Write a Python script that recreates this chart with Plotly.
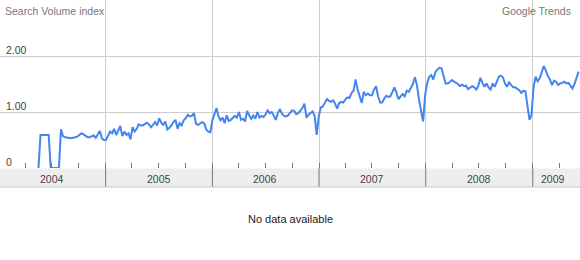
import pandas as pd
import plotly.graph_objects as go

# ---- data (weekly Search Volume index) ----
start_week = "2004-05-16"
values = [
    0.00, 0.59, 0.59, 0.59, 0.59, 0.59, 0.00, 0.00, 0.00, 0.00,
    0.00, 0.69, 0.57, 0.55, 0.54, 0.53, 0.53, 0.54, 0.55, 0.56,
    0.59, 0.62, 0.60, 0.57, 0.55, 0.55, 0.56, 0.58, 0.54, 0.60,
    0.66, 0.53, 0.50, 0.50, 0.57, 0.65, 0.62, 0.70, 0.59, 0.68,
    0.75, 0.57, 0.65, 0.59, 0.62, 0.51, 0.73, 0.65, 0.70, 0.78,
    0.76, 0.76, 0.78, 0.81, 0.78, 0.73, 0.77, 0.82, 0.76, 0.89,
    0.81, 0.77, 0.83, 0.69, 0.72, 0.76, 0.82, 0.86, 0.70, 0.80,
    0.76, 0.85, 0.89, 0.95, 0.92, 0.93, 0.98, 0.79, 0.77, 0.79,
    0.82, 0.80, 0.69, 0.65, 0.64, 0.85, 0.98, 1.07, 0.92, 0.85,
    0.90, 0.80, 0.94, 0.84, 0.86, 0.90, 0.93, 0.90, 1.00, 0.86,
    0.88, 0.83, 1.02, 0.94, 0.88, 0.94, 0.88, 1.00, 0.90, 0.93,
    0.91, 0.96, 1.03, 0.98, 1.00, 0.94, 0.86, 0.98, 1.05, 0.97,
    0.93, 0.92, 0.94, 0.99, 1.03, 1.02, 0.96, 0.98, 1.02, 1.07,
    1.15, 0.90, 0.95, 0.99, 1.01, 0.93, 0.59, 0.92, 1.08, 1.10,
    1.16, 1.23, 1.20, 1.18, 1.21, 1.15, 1.06, 1.16, 1.18, 1.17,
    1.22, 1.26, 1.25, 1.34, 1.38, 1.58, 1.40, 1.26, 1.16, 1.36,
    1.30, 1.33, 1.30, 1.30, 1.40, 1.46, 1.28, 1.17, 1.17, 1.24,
    1.29, 1.27, 1.28, 1.36, 1.44, 1.34, 1.23, 1.28, 1.32, 1.28,
    1.38, 1.36, 1.43, 1.50, 1.62, 1.48, 1.22, 1.05, 0.83, 1.30,
    1.52, 1.63, 1.66, 1.58, 1.71, 1.76, 1.79, 1.78, 1.64, 1.51,
    1.51, 1.53, 1.57, 1.55, 1.53, 1.50, 1.46, 1.49, 1.46, 1.47,
    1.41, 1.44, 1.46, 1.44, 1.40, 1.47, 1.61, 1.52, 1.45, 1.51,
    1.44, 1.40, 1.51, 1.45, 1.55, 1.63, 1.65, 1.62, 1.51, 1.45,
    1.53, 1.48, 1.44, 1.44, 1.41, 1.39, 1.34, 1.38, 1.37, 1.10,
    0.86, 0.95, 1.45, 1.63, 1.55, 1.60, 1.71, 1.82, 1.74, 1.64,
    1.58, 1.48, 1.56, 1.54, 1.48, 1.51, 1.52, 1.54, 1.51, 1.52,
    1.47, 1.42, 1.50, 1.62, 1.72,
]
dates = pd.date_range(start=start_week, periods=len(values), freq="W-SUN")

year_labels = ["2004", "2005", "2006", "2007", "2008", "2009"]
year_label_dates = ["2004-07-01", "2005-07-01", "2006-07-01",
                    "2007-07-01", "2008-07-01", "2009-03-10"]
year_starts = ["2005-01-01", "2006-01-01", "2007-01-01",
               "2008-01-01", "2009-01-01"]
y_tick_vals = [0, 1, 2]
y_tick_text = ["0", "1.00", "2.00"]

x_range = ["2004-01-05 10:00", "2009-06-11 19:00"]

# ---- figure ----
PLOT_H = 168.0
FONT = "Liberation Sans, Arial, sans-serif"

fig = go.Figure()
fig.add_trace(go.Scatter(
    x=dates, y=values, mode="lines",
    line=dict(color="#4684ee", width=2),
    hoverinfo="skip", showlegend=False,
))

fig.update_layout(
    width=580, height=260,
    margin=dict(l=0, r=0, t=0, b=260 - int(PLOT_H), pad=0),
    paper_bgcolor="white", plot_bgcolor="white",
    font=dict(family=FONT, size=10.5, color="#444"),
    xaxis=dict(
        type="date", range=x_range, fixedrange=True,
        tick0="2004-01-01", dtick="M12",
        showgrid=True, gridcolor="#cccccc", gridwidth=1,
        ticks="inside", ticklen=5, tickwidth=1, tickcolor="#777",
        showticklabels=False, zeroline=False, showline=False,
        minor=dict(dtick="M3", tick0="2004-01-01", ticks="inside",
                   ticklen=5, tickwidth=1, tickcolor="#777", showgrid=False),
    ),
    yaxis=dict(
        range=[0, 3], fixedrange=True,
        tickvals=y_tick_vals, showticklabels=False,
        showgrid=True, gridcolor="#cccccc", gridwidth=1,
        zeroline=False, showline=False,
    ),
    hovermode=False,
)

def py(px):
    """pixel row (from top of figure) -> paper y"""
    return (PLOT_H - px) / PLOT_H

# bottom band
fig.add_shape(type="rect", xref="paper", yref="paper",
              x0=0, x1=1, y0=py(187), y1=py(168.5),
              fillcolor="#eeeeee", line=dict(width=0), layer="below")
fig.add_shape(type="line", xref="paper", yref="paper",
              x0=0, x1=1, y0=py(187), y1=py(187),
              line=dict(color="#c8c8c8", width=1))
for d in year_starts:
    fig.add_shape(type="line", xref="x", yref="paper",
                  x0=d, x1=d, y0=py(186.5), y1=py(168),
                  line=dict(color="#777", width=1))

for lab, d in zip(year_labels, year_label_dates):
    fig.add_annotation(x=d, xref="x", y=py(179), yref="paper",
                       text=lab, showarrow=False, xanchor="center",
                       yanchor="middle", font=dict(size=10.5, color="#444"))

# y tick labels (drawn inside plot, above the gridlines)
for v, t in zip(y_tick_vals, y_tick_text):
    fig.add_annotation(x=0, xref="paper", y=v, yref="y", text=t,
                       showarrow=False, xanchor="left", yanchor="middle",
                       xshift=4, yshift=6, font=dict(size=10.5, color="#444"))

fig.add_annotation(x=0, xref="paper", y=py(10.5), yref="paper",
                   text="Search Volume index", showarrow=False,
                   xanchor="left", yanchor="middle", xshift=3,
                   font=dict(size=10.5, color="#777"))
fig.add_annotation(x=1, xref="paper", y=py(10.5), yref="paper",
                   text="Google Trends", showarrow=False,
                   xanchor="right", yanchor="middle", xshift=-7,
                   font=dict(size=10.5, color="#777"))
fig.add_annotation(x=0.5, xref="paper", y=py(219), yref="paper",
                   text="No data available", showarrow=False,
                   xanchor="center", yanchor="middle",
                   font=dict(size=11, color="#222"))

fig.write_html("out.html", config={"displayModeBar": False})
